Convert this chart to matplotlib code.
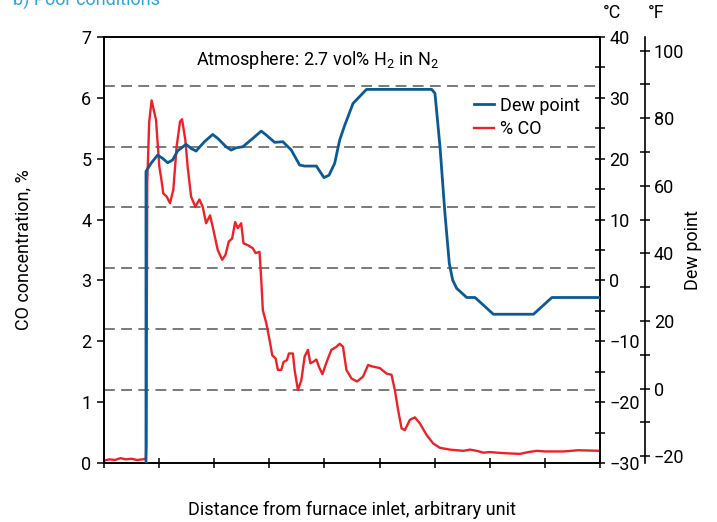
import matplotlib

matplotlib.use("Agg")

import matplotlib.pyplot as plt
from matplotlib.ticker import MultipleLocator

# --- data ------------------------------------------------------------------
# x: distance from furnace inlet (arbitrary units, 0..9)
co_x = [0.0, 0.1, 0.2, 0.3, 0.4, 0.5, 0.6, 0.7, 0.76, 0.77, 0.785, 0.82, 0.864,
        0.944, 1.004, 1.035, 1.076, 1.136, 1.198, 1.258, 1.318, 1.38, 1.416,
        1.476, 1.518, 1.58, 1.658, 1.731, 1.791, 1.853, 1.925, 1.985, 2.064,
        2.144, 2.204, 2.264, 2.325, 2.38, 2.427, 2.489, 2.531, 2.609, 2.7,
        2.749, 2.822, 2.853, 2.882, 2.944, 3.004, 3.053, 3.113, 3.155, 3.216,
        3.258, 3.318, 3.355, 3.427, 3.458, 3.518, 3.58, 3.64, 3.7, 3.744, 3.791,
        3.853, 3.9, 3.962, 4.035, 4.125, 4.216, 4.276, 4.336, 4.398, 4.489,
        4.591, 4.7, 4.791, 4.853, 5.004, 5.125, 5.216, 5.276, 5.336, 5.398,
        5.458, 5.549, 5.64, 5.731, 5.853, 5.973, 6.095, 6.276, 6.4, 6.518,
        6.64, 6.762, 6.882, 7.0, 7.125, 7.3, 7.549, 7.7, 7.853, 8.0, 8.336,
        8.6, 9.0]
co_pct = [0.04, 0.06, 0.05, 0.08, 0.06, 0.07, 0.05, 0.06, 0.07, 0.3, 4.6, 5.6,
          5.96, 5.64, 4.87, 4.70, 4.43, 4.38, 4.27, 4.49, 5.2, 5.61, 5.65, 5.31,
          4.87, 4.38, 4.21, 4.33, 4.21, 3.94, 4.07, 3.83, 3.5, 3.34, 3.42, 3.64,
          3.69, 3.96, 3.86, 3.94, 3.61, 3.58, 3.53, 3.45, 3.47, 3.01, 2.51, 2.3,
          2.02, 1.77, 1.72, 1.53, 1.53, 1.66, 1.69, 1.8, 1.8, 1.53, 1.2, 1.36,
          1.75, 1.86, 1.64, 1.66, 1.70, 1.58, 1.46, 1.65, 1.86, 1.91, 1.96, 1.91,
          1.53, 1.39, 1.34, 1.42, 1.61, 1.59, 1.56, 1.47, 1.45, 1.2, 0.87, 0.57,
          0.54, 0.71, 0.75, 0.65, 0.46, 0.32, 0.25, 0.22, 0.21, 0.20, 0.22,
          0.20, 0.17, 0.18, 0.17, 0.16, 0.15, 0.18, 0.20, 0.19, 0.19, 0.21, 0.20]

dew_x = [0.762, 0.762, 0.853, 0.973, 1.064, 1.155, 1.245, 1.336, 1.489, 1.58,
         1.671, 1.822, 1.973, 2.064, 2.216, 2.307, 2.398, 2.518, 2.7, 2.853,
         2.944, 3.095, 3.245, 3.398, 3.549, 3.64, 3.853, 3.991, 4.082, 4.185,
         4.276, 4.367, 4.518, 4.762, 5.944, 6.004, 6.095, 6.185, 6.264, 6.325,
         6.398, 6.58, 6.731, 7.064, 7.791, 8.125, 9.0]
dew_c = [-30.0, 17.9, 19.25, 20.6, 20.07, 19.35, 19.8, 21.3, 22.37, 21.7, 21.27,
         22.8, 24.0, 23.35, 21.97, 21.43, 21.8, 21.97, 23.35, 24.55, 23.9, 22.7,
         22.8, 21.43, 18.97, 18.8, 18.8, 16.9, 17.3, 19.25, 23.1, 25.5, 29.1,
         31.4, 31.4, 30.75, 22.0, 11.0, 2.8, 0.07, -1.3, -2.8, -2.8, -5.55,
         -5.55, -2.8, -2.8]

grid_levels = [1.2, 2.2, 3.2, 4.2, 5.2, 6.2]

BLUE = "#0b5a94"
RED = "#ec2227"
TITLE_BLUE = "#2aa6df"

plt.rcParams["font.family"] = ["Roboto", "DejaVu Sans"]
plt.rcParams["mathtext.fontset"] = "custom"
plt.rcParams["mathtext.rm"] = "Roboto"
plt.rcParams["font.size"] = 13
plt.rcParams["axes.linewidth"] = 1.2


def minus(v):
    return "\u2212%d" % -v if v < 0 else "%d" % v


fig = plt.figure(figsize=(7.17, 5.22), dpi=100)
ax = fig.add_axes([0.145, 0.113, 0.692, 0.816])

for lvl in grid_levels:
    ax.axhline(lvl, color="#6f6f6f", lw=1.3, ls=(0, (6, 3.5)), zorder=1)

ax.plot(co_x, co_pct, color=RED, lw=1.7, zorder=3, label="% CO")
ax.set_xlim(0, 9)
ax.set_ylim(0, 7)
ax.xaxis.set_major_locator(MultipleLocator(1))
ax.set_xticklabels([])
ax.yaxis.set_major_locator(MultipleLocator(1))
ax.tick_params(axis="x", direction="inout", length=7, width=1.1)
ax.tick_params(axis="y", direction="out", length=5, width=1.1, pad=4)
ax.set_ylabel("CO concentration, %", labelpad=35)
ax.set_xlabel("Distance from furnace inlet, arbitrary unit", labelpad=20)

# dew point in degC on the right
axc = ax.twinx()
axc.plot(dew_x, dew_c, color=BLUE, lw=2.0, zorder=4, label="Dew point")
axc.set_ylim(-30, 40)
axc.yaxis.set_major_locator(MultipleLocator(10))
axc.yaxis.set_minor_locator(MultipleLocator(5))
axc.set_yticks(axc.get_yticks())
axc.set_yticklabels([minus(t) for t in axc.get_yticks()])
axc.set_ylim(-30, 40)
axc.tick_params(axis="y", which="both", direction="inout", length=7, width=1.1, pad=3)

# degF axis further right
axf = ax.twinx()
axf.set_ylim(-30 * 9 / 5 + 32, 40 * 9 / 5 + 32)
axf.spines["right"].set_position(("axes", 1.09))
for s in ("top", "bottom", "left"):
    axf.spines[s].set_visible(False)
axf.yaxis.set_major_locator(MultipleLocator(20))
axf.yaxis.set_minor_locator(MultipleLocator(10))
axf.set_yticks(axf.get_yticks())
axf.set_yticklabels([minus(t) for t in axf.get_yticks()])
axf.set_ylim(-30 * 9 / 5 + 32, 40 * 9 / 5 + 32)
axf.tick_params(axis="y", which="both", direction="inout", length=7, width=1.1, pad=3)
axf.set_ylabel("Dew point", labelpad=0)

fig.text(0.853, 0.975, "\u00b0C", ha="center", va="center")
fig.text(0.915, 0.975, "\u00b0F", ha="center", va="center")

ax.text(0.431, 0.946, "Atmosphere: 2.7 vol% H$_2$ in N$_2$", transform=ax.transAxes,
        ha="center", va="center")

h1, l1 = axc.get_legend_handles_labels()
h2, l2 = ax.get_legend_handles_labels()
axc.legend(h1 + h2, l1 + l2, loc="upper right", bbox_to_anchor=(0.985, 0.89),
           frameon=False, handlelength=1.1, handletextpad=0.35, borderpad=0.2,
           labelspacing=0.3)

fig.text(0.018, 1.0, "b) Poor conditions", color=TITLE_BLUE, ha="left", va="center",
         fontsize=13)

fig.savefig("out.png", dpi=100)
